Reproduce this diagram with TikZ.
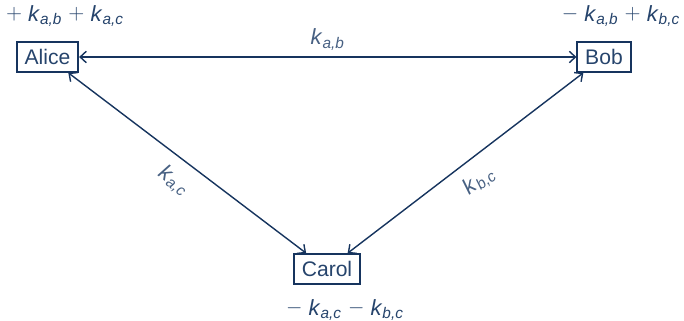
\documentclass[tikz,border=0pt]{standalone}
\usepackage{fontspec}
\setmainfont{Liberation Sans}
\usetikzlibrary{arrows.meta,positioning}
\definecolor{navy}{RGB}{22,52,94}
\definecolor{ink}{RGB}{38,68,108}
\newcommand{\kk}[1]{\textit{k}\textsubscript{\textit{#1}}}
\newcommand{\pl}{\raisebox{0.15ex}{$+$}}
\newcommand{\mi}{\raisebox{0.15ex}{$-$}}

\tikzset{
  party/.style={draw=navy,line width=1pt,text=ink,inner xsep=4.5pt,minimum height=17pt,font=\fontsize{12}{14}\selectfont},
  sum/.style={text=ink,font=\fontsize{12.5}{14}\selectfont},
  key/.style={text=ink!85,font=\fontsize{12.5}{14}\selectfont},
  link/.style={navy,line width=0.8pt,{Straight Barb[length=3.5pt,width=6.5pt]}-{Straight Barb[length=3.5pt,width=6.5pt]}}
}

\begin{document}
\begin{tikzpicture}[x=0.02cm,y=-0.02cm]
  \useasboundingbox (0,0) rectangle (684,321);

  \node[party] (alice) at (47.5,57) {Alice};
  \node[party] (bob)   at (604,57)  {Bob};
  \node[party] (carol) at (327,269) {Carol};

  \node[sum] (alicesum) at (65,16)   {\pl\ \kk{a,b} \pl\ \kk{a,c}};
  \node[sum] (bobsum)   at (621,16)  {\mi\ \kk{a,b} \pl\ \kk{b,c}};
  \node[sum] (carolsum) at (345,310) {\mi\ \kk{a,c} \mi\ \kk{b,c}};

  \draw[link] (alice) -- (bob)   node[key,midway,above] (kab) {\kk{a,b}};
  \draw[link] (alice) -- (carol) node[key,pos=0.5,sloped,below,yshift=-3pt] (kac) {\kk{a,c}};
  \draw[link] (carol) -- (bob)   node[key,pos=0.5,sloped,below,yshift=-3pt] (kbc) {\kk{b,c}};

\end{tikzpicture}
\end{document}
